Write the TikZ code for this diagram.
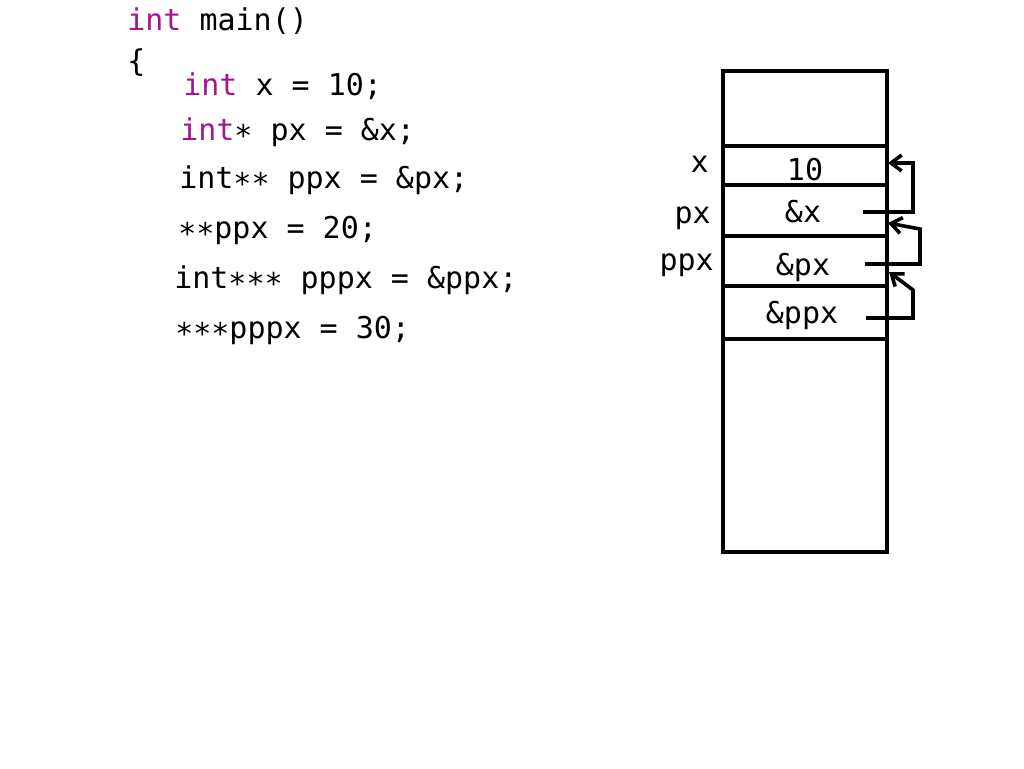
\documentclass[tikz,border=0pt]{standalone}
\usepackage{fontspec}
\setmonofont{DejaVu Sans Mono}
\usetikzlibrary{arrows.meta}
\definecolor{kw}{RGB}{165,20,145}
\begin{document}
\begin{tikzpicture}[x=0.75pt,y=-0.75pt,
  code/.style={anchor=base west,inner sep=0pt,font=\ttfamily\fontsize{22.5}{27}\selectfont},
  lbl/.style={anchor=base east,inner sep=0pt,font=\ttfamily\fontsize{22.5}{27}\selectfont},
  val/.style={anchor=base,inner sep=0pt,font=\ttfamily\fontsize{22.5}{27}\selectfont},
  mem/.style={line width=3pt},
  ptr/.style={line width=2.7pt,-{Straight Barb[length=8pt,width=12pt,line width=2.7pt]}}]
\useasboundingbox (0,0) rectangle (1024,768);
% code
\node[code] (l1) at (127,30) {\textcolor{kw}{int} main()};
\node[code] (l2) at (127,71) {\{};
\node[code] (l3) at (183,95) {\textcolor{kw}{int} x = 10;};
\node[code] (l4) at (180,140) {\textcolor{kw}{int}∗ px = \&x;};
\node[code] (l5) at (179,188) {int∗∗ ppx = \&px;};
\node[code] (l6) at (178,238) {∗∗ppx = 20;};
\node[code] (l7) at (174,288) {int∗∗∗ pppx = \&ppx;};
\node[code] (l8) at (175,338) {∗∗∗pppx = 30;};
% memory
\draw[mem] (723,71) rectangle (887,552);
\foreach \yy in {146,185,236,286,339} \draw[mem] (723,\yy) -- (887,\yy);
\node[lbl] (nx) at (709,172) {x};
\node[lbl] (npx) at (711,223) {px};
\node[lbl] (nppx) at (714,270) {ppx};
\node[val] (v1) at (805,180) {10};
\node[val] (v2) at (803,222) {\&x};
\node[val] (v3) at (803,275) {\&px};
\node[val] (v4) at (802,323) {\&ppx};
\coordinate (s1) at (863,212);
\coordinate (s2) at (865,264);
\coordinate (s3) at (866,318);
\coordinate (t1) at (888,163);
\coordinate (t2) at (888,223);
\coordinate (t3) at (889,272);
\draw[ptr] (s1) -- (913,212) -- (913,163) -- (t1);
\draw[ptr] (s2) -- (920,264) -- (920,229) -- (t2);
\draw[ptr] (s3) -- (913,318) -- (913,290) -- (t3);
\end{tikzpicture}
\end{document}
